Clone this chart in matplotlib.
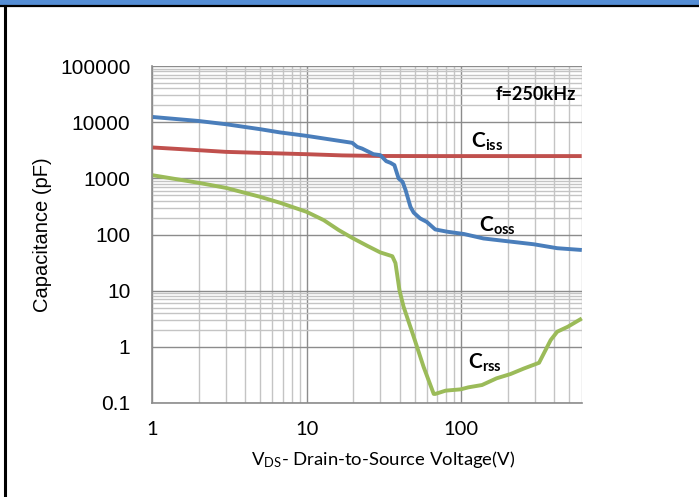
import numpy as np
import matplotlib
matplotlib.use("Agg")
import matplotlib.pyplot as plt
from matplotlib.ticker import FixedLocator, NullFormatter, FixedFormatter
from matplotlib.lines import Line2D
from matplotlib.patches import Rectangle

# --- data ---
ciss_v = [1, 2, 3, 5, 10, 17, 30, 60, 100, 200, 600]
ciss_c = [3550, 3170, 2960, 2840, 2690, 2560, 2500, 2490, 2490, 2490, 2490]

coss_v = [1, 2, 3, 5, 6.75, 10, 19.7, 21.2, 22.8, 25.2, 27.0, 29.9, 32.7, 34.8, 36.9,
          39.3, 41.7, 43.6, 46.9, 49.2, 54.2, 59.7, 67.8, 81.2, 104, 139, 197, 294, 417, 601]
coss_c = [12400, 10500, 9200, 7500, 6560, 5700, 4290, 3630, 3390, 2960, 2690, 2590, 2020, 1890, 1720,
          995, 867, 617, 310, 245, 193, 168, 123, 112, 102, 85, 76, 67, 57, 53]

crss_v = [1, 2, 3, 5, 6.75, 10, 12.9, 16.1, 19.7, 24.6, 29.9, 35.8, 37.5, 39.8, 42.3,
          49.2, 57.0, 66.3, 67.8, 79.2, 99, 111, 136, 169, 208, 253, 318, 342, 378, 417, 488, 601]
crss_c = [1140, 832, 677, 469, 366, 253, 180, 120, 87, 63, 48, 41, 31, 10.2, 5.2,
          1.51, 0.44, 0.145, 0.145, 0.166, 0.175, 0.19, 0.209, 0.275, 0.328, 0.41, 0.52, 0.77, 1.32, 1.86, 2.28, 3.2]

y_ticks = [0.1, 1, 10, 100, 1000, 10000, 100000]
y_tick_labels = ["0.1", "1", "10", "100", "1000", "10000", "100000"]
x_ticks = [1, 10, 100]
x_tick_labels = ["1", "10", "100"]

plt.rcParams['mathtext.fontset'] = 'custom'
plt.rcParams['mathtext.rm'] = 'Lato'
plt.rcParams['mathtext.bf'] = 'Lato:bold'
plt.rcParams['mathtext.it'] = 'Lato:italic'

fig = plt.figure(figsize=(6.99, 4.97), dpi=100)
ax = fig.add_axes([152/699, 1-403/497, (581.7-152)/699, (403-66)/497])

ax.set_xscale('log')
ax.set_yscale('log')
ax.set_xlim(1, 600)
ax.set_ylim(0.1, 100000)

# minor y grid only in every other decade (as in the reference)
y_minor = []
for d in [1, 100, 10000]:
    y_minor += [d * k for k in range(2, 10)]
x_minor = []
for d in [1, 10, 100]:
    x_minor += [d * k for k in range(2, 10) if d * k <= 600]

ax.xaxis.set_major_locator(FixedLocator(x_ticks))
ax.xaxis.set_major_formatter(FixedFormatter(x_tick_labels))
ax.yaxis.set_major_locator(FixedLocator(y_ticks))
ax.yaxis.set_major_formatter(FixedFormatter(y_tick_labels))
ax.xaxis.set_minor_locator(FixedLocator(x_minor))
ax.yaxis.set_minor_locator(FixedLocator(y_minor))
ax.xaxis.set_minor_formatter(NullFormatter())
ax.yaxis.set_minor_formatter(NullFormatter())

ax.grid(which='minor', color='#c4c4c4', linewidth=1.0)
ax.grid(which='major', color='#8c8c8c', linewidth=1.0)
ax.set_axisbelow(True)
ax.tick_params(which='both', length=0)
ax.tick_params(axis='y', pad=15.5, labelsize=15)
ax.tick_params(axis='x', pad=13, labelsize=14.5)
for lbl in ax.get_yticklabels():
    lbl.set_fontfamily('Liberation Sans')
for lbl in ax.get_xticklabels():
    lbl.set_fontfamily('Lato')
for s in ['top', 'right']:
    ax.spines[s].set_visible(False)
for s in ['left', 'bottom']:
    ax.spines[s].set_color('#8c8c8c')
    ax.spines[s].set_linewidth(1.2)

ax.plot(ciss_v, ciss_c, color='#c0504d', lw=2.8, solid_capstyle='butt', clip_on=False)
ax.plot(coss_v, coss_c, color='#4a7ebb', lw=2.8, solid_capstyle='butt', clip_on=False)
ax.plot(crss_v, crss_c, color='#9bbb59', lw=2.8, solid_capstyle='butt', clip_on=False)

ax.text(550, 24500, 'f=250kHz', fontsize=13, fontweight='bold', family='Lato',
        ha='right', va='baseline')
ax.text(115, 3440, r'$\mathbf{C}_{\mathbf{iss}}$', fontsize=15, ha='left', va='baseline')
ax.text(131, 112, r'$\mathbf{C}_{\mathbf{oss}}$', fontsize=15, ha='left', va='baseline')
ax.text(111, 0.414, r'$\mathbf{C}_{\mathbf{rss}}$', fontsize=15, ha='left', va='baseline')

ax.set_ylabel('Capacitance (pF)', fontsize=14.5, family='Liberation Sans')
ax.yaxis.set_label_coords((52 - 152) / 429.7, 0.5)
ax.set_xlabel(r'$\mathrm{V_{DS}}$- Drain-to-Source Voltage(V)', fontsize=13.3, family='Lato')
ax.xaxis.set_label_coords((383 - 152) / 429.7, -(449 - 403) / 337)

# frame decorations
fig.patches.append(Rectangle((0, 1-5/497), 1, 5/497, transform=fig.transFigure,
                             color='#558ed5', zorder=0))
fig.lines.append(Line2D([0, 1], [1-6/497, 1-6/497], transform=fig.transFigure,
                        color='black', lw=1.6))
fig.lines.append(Line2D([4.5/699, 4.5/699], [0, 1-6/497], transform=fig.transFigure,
                        color='black', lw=2.2))

fig.savefig('out.png', dpi=100)
